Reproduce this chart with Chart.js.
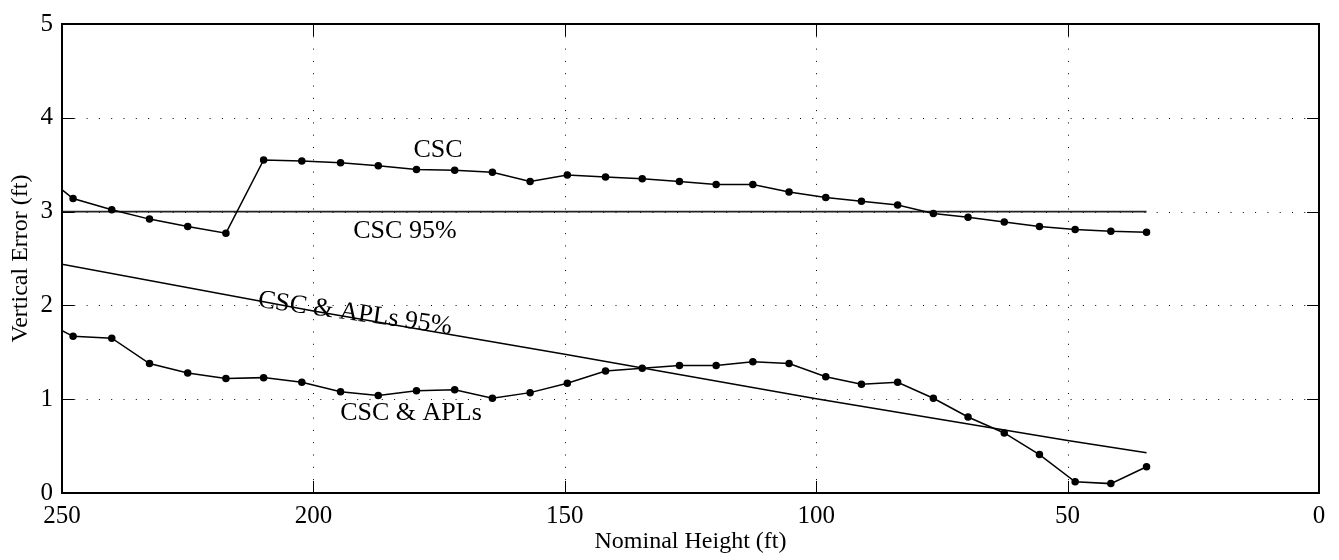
<!DOCTYPE html>
<html lang="en">
<head>
    <meta charset="UTF-8">
    <title>Vertical Error vs Nominal Height</title>
    <script src="https://cdn.jsdelivr.net/npm/chart.js"></script>
    <style>
        body {
            margin: 0;
            background-color: #ffffff;
        }
        .chart-container {
            width: 1339px;
            height: 560px;
        }
    </style>
</head>
<body>
    <div class="chart-container">
        <canvas id="chartCanvas" width="1339" height="560"></canvas>
    </div>

    <script>
        // nominal heights (ft) of the sample points
        const heights = [255.4, 247.8, 240.1, 232.6, 225.0, 217.4, 209.9, 202.3, 194.6, 187.1,
                         179.5, 171.9, 164.4, 156.9, 149.5, 141.9, 134.6, 127.2, 119.9, 112.6,
                         105.4, 98.1, 91.0, 83.8, 76.7, 69.8, 62.6, 55.6, 48.5, 41.4, 34.3];
        // CSC vertical error (ft)
        const cscError = [3.46, 3.14, 3.02, 2.92, 2.84, 2.77, 3.55, 3.54, 3.52, 3.49,
                          3.45, 3.44, 3.42, 3.32, 3.39, 3.37, 3.35, 3.32, 3.29, 3.29,
                          3.21, 3.15, 3.11, 3.07, 2.98, 2.94, 2.89, 2.84, 2.81, 2.79, 2.78];
        // CSC & APLs vertical error (ft)
        const aplError = [1.88, 1.67, 1.65, 1.38, 1.28, 1.22, 1.23, 1.18, 1.08, 1.04,
                          1.09, 1.10, 1.01, 1.07, 1.17, 1.30, 1.33, 1.36, 1.36, 1.40,
                          1.38, 1.24, 1.16, 1.18, 1.01, 0.81, 0.64, 0.41, 0.12, 0.10, 0.28];
        // 95% bounds
        const csc95Heights = [250, 34.3];
        const csc95Error = [3, 3];
        const apl95Heights = [250, 200, 150, 100, 50, 34.3];
        const apl95Error = [2.44, 1.94, 1.48, 1.005, 0.56, 0.43];
        // axis ticks
        const xTicks = [250, 200, 150, 100, 50, 0];
        const yTicks = [0, 1, 2, 3, 4, 5];

        const serif = '"Liberation Serif", "Times New Roman", serif';

        function toPoints(xs, ys) {
            return xs.map((x, i) => ({ x: x, y: ys[i] }));
        }

        const textLabels = [
            { text: 'CSC', x: 175.2, y: 3.66, angle: 0, baseline: 'middle' },
            { text: 'CSC 95%', x: 181.8, y: 2.79, angle: 0, baseline: 'middle' },
            { text: 'CSC & APLs 95%', x: 191.9, y: 1.84, angle: 8, baseline: 'alphabetic' },
            { text: 'CSC & APLs', x: 180.6, y: 0.85, angle: 0, baseline: 'middle' }
        ];

        const framePlugin = {
            id: 'frame',
            beforeDatasetsDraw(chart) {
                const ctx = chart.ctx;
                const { left, right, top, bottom } = chart.chartArea;
                const xs = chart.scales.x, ys = chart.scales.y;
                ctx.save();
                ctx.strokeStyle = '#000';
                ctx.lineWidth = 1;
                ctx.setLineDash([1, 11.3]);
                yTicks.forEach(v => {
                    if (v === 0 || v === 5) return;
                    const y = Math.round(ys.getPixelForValue(v)) + 0.5;
                    ctx.beginPath();
                    ctx.moveTo(left, y);
                    ctx.lineTo(right, y);
                    ctx.stroke();
                });
                xTicks.forEach(v => {
                    if (v === 0 || v === 250) return;
                    const x = Math.round(xs.getPixelForValue(v)) + 0.5;
                    ctx.beginPath();
                    ctx.moveTo(x, top);
                    ctx.lineTo(x, bottom);
                    ctx.stroke();
                });
                ctx.restore();
            },
            afterDatasetsDraw(chart) {
                const ctx = chart.ctx;
                const { left, right, top, bottom } = chart.chartArea;
                const xs = chart.scales.x, ys = chart.scales.y;
                const tickLen = 12;
                ctx.save();
                ctx.strokeStyle = '#000';
                ctx.lineWidth = 1;
                yTicks.forEach(v => {
                    const y = Math.round(ys.getPixelForValue(v)) + 0.5;
                    ctx.beginPath();
                    ctx.moveTo(left, y);
                    ctx.lineTo(left + tickLen, y);
                    ctx.moveTo(right, y);
                    ctx.lineTo(right - tickLen, y);
                    ctx.stroke();
                });
                xTicks.forEach(v => {
                    const x = Math.round(xs.getPixelForValue(v)) + 0.5;
                    ctx.beginPath();
                    ctx.moveTo(x, bottom);
                    ctx.lineTo(x, bottom - tickLen);
                    ctx.moveTo(x, top);
                    ctx.lineTo(x, top + tickLen);
                    ctx.stroke();
                });
                ctx.lineWidth = 2;
                ctx.strokeRect(left, top, right - left, bottom - top);

                ctx.fillStyle = '#000';
                ctx.font = '26px ' + serif;
                ctx.textAlign = 'center';
                textLabels.forEach(l => {
                    ctx.save();
                    ctx.translate(xs.getPixelForValue(l.x), ys.getPixelForValue(l.y));
                    ctx.rotate(l.angle * Math.PI / 180);
                    ctx.textBaseline = l.baseline;
                    ctx.fillText(l.text, 0, 0);
                    ctx.restore();
                });
                ctx.restore();
            }
        };

        const lineStyle = {
            showLine: true,
            borderColor: '#000',
            backgroundColor: '#000',
            borderWidth: 1.5,
            pointRadius: 3,
            pointHoverRadius: 3,
            tension: 0
        };

        new Chart(document.getElementById('chartCanvas'), {
            type: 'scatter',
            data: {
                datasets: [
                    Object.assign({ label: 'CSC', data: toPoints(heights, cscError) }, lineStyle),
                    Object.assign({ label: 'CSC & APLs', data: toPoints(heights, aplError) }, lineStyle),
                    Object.assign({ label: 'CSC 95%', data: toPoints(csc95Heights, csc95Error) }, lineStyle, { pointRadius: 0, borderColor: '#222', borderWidth: 1.8 }),
                    Object.assign({ label: 'CSC & APLs 95%', data: toPoints(apl95Heights, apl95Error) }, lineStyle, { pointRadius: 0 })
                ]
            },
            options: {
                responsive: false,
                animation: false,
                devicePixelRatio: 1,
                layout: { padding: { top: 20, right: 20, left: 0, bottom: 0 } },
                plugins: {
                    legend: { display: false },
                    tooltip: { enabled: false }
                },
                scales: {
                    x: {
                        type: 'linear',
                        reverse: true,
                        min: 0,
                        max: 250,
                        grid: { display: false, drawTicks: false },
                        border: { display: false },
                        afterFit: s => { s.height = 67; },
                        ticks: {
                            stepSize: 50,
                            autoSkip: false,
                            maxRotation: 0,
                            padding: 8,
                            color: '#000',
                            font: { family: serif, size: 25 }
                        },
                        title: {
                            display: true,
                            text: 'Nominal Height (ft)',
                            color: '#000',
                            font: { family: serif, size: 24 },
                            padding: { top: 0, bottom: 4 }
                        }
                    },
                    y: {
                        min: 0,
                        max: 5,
                        grid: { display: false, drawTicks: false },
                        border: { display: false },
                        afterFit: s => { s.width = 62; },
                        ticks: {
                            stepSize: 1,
                            padding: 9,
                            color: '#000',
                            font: { family: serif, size: 25 }
                        },
                        title: {
                            display: true,
                            text: 'Vertical Error (ft)',
                            color: '#000',
                            font: { family: serif, size: 24 },
                            padding: { top: 6, bottom: 0 }
                        }
                    }
                }
            },
            plugins: [framePlugin]
        });
    </script>
</body>
</html>
